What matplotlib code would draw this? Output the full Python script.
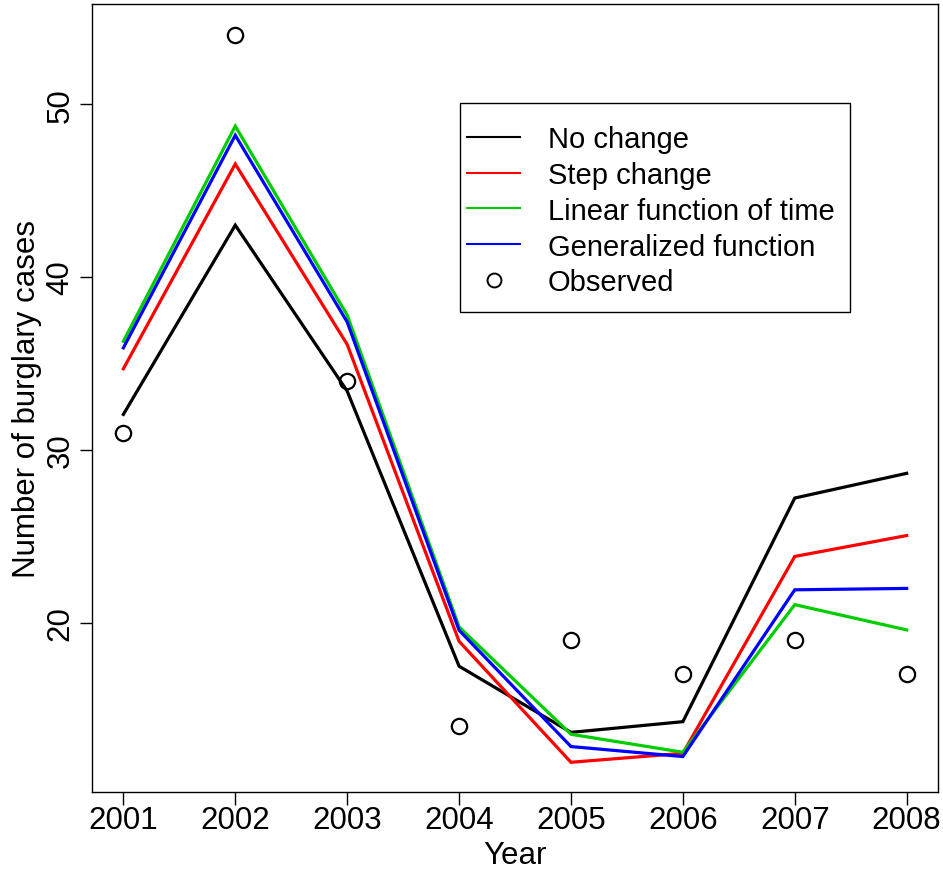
import matplotlib
matplotlib.use("Agg")
import matplotlib.pyplot as plt
from matplotlib.lines import Line2D
from matplotlib.patches import Rectangle

plt.rcParams['font.family'] = ['Liberation Sans', 'DejaVu Sans']

years = [2001, 2002, 2003, 2004, 2005, 2006, 2007, 2008]
observed = [31, 54, 34, 14, 19, 17, 19, 17]
no_change = [32.05, 43.0, 33.4, 17.48, 13.65, 14.27, 27.21, 28.64]
step_change = [34.69, 46.54, 36.1, 18.92, 11.92, 12.44, 23.83, 25.04]
linear_time = [36.28, 48.73, 37.8, 19.75, 13.54, 12.5, 21.04, 19.58]
generalized = [35.9, 48.2, 37.4, 19.56, 12.83, 12.25, 21.9, 21.98]

series_names = ["No change", "Step change", "Linear function of time", "Generalized function"]
series_colors = ["black", "#ff0000", "#00cd00", "#0000ff"]

fig = plt.figure(figsize=(9.43, 8.7), dpi=100)
ax = fig.add_axes([0.0976, 0.0885, 0.8971, 0.9058])

lw = 2.3
for vals, col in zip([no_change, step_change, linear_time, generalized], series_colors):
    ax.plot(years, vals, color=col, lw=lw, solid_joinstyle='miter')
ax.plot(years, observed, 'o', mfc='none', mec='black', mew=1.6, ms=11)

ax.set_xlim(2000.72, 2008.28)
ax.set_ylim(10.2, 55.8)
ax.set_xticks(years)
ax.set_yticks([20, 30, 40, 50])
ax.tick_params(axis='both', direction='out', length=9, width=1, labelsize=22.5)
ax.tick_params(axis='x', pad=0.5)
ax.tick_params(axis='y', pad=3)
for lab in ax.get_yticklabels():
    lab.set_rotation(90)
    lab.set_va('center')
for sp in ax.spines.values():
    sp.set_linewidth(1)

ax.set_xlabel("Year", fontsize=22.5, va='baseline')
ax.xaxis.set_label_coords(0.5, -0.0901)
ax.set_ylabel("Number of burglary cases", fontsize=22.5, va='center')
ax.yaxis.set_label_coords(-0.0768, 0.5)

# legend box drawn by hand, entries without frame
ax.add_patch(Rectangle((0.435, 0.6091), 0.461, 0.2652, transform=ax.transAxes,
                       fill=False, ec='black', lw=1, zorder=5))
handles = [Line2D([], [], color=c, lw=1.5) for c in series_colors]
handles.append(Line2D([], [], ls='none', marker='o', mfc='none', mec='black', mew=1.4, ms=10))
ax.legend(handles, series_names + ["Observed"], loc='upper left',
          bbox_to_anchor=(0.4433, 0.8465), fontsize=21, frameon=False,
          handlelength=1.83, handletextpad=0.93, labelspacing=0.27,
          borderpad=0, borderaxespad=0)

fig.savefig("out.png", dpi=100)
